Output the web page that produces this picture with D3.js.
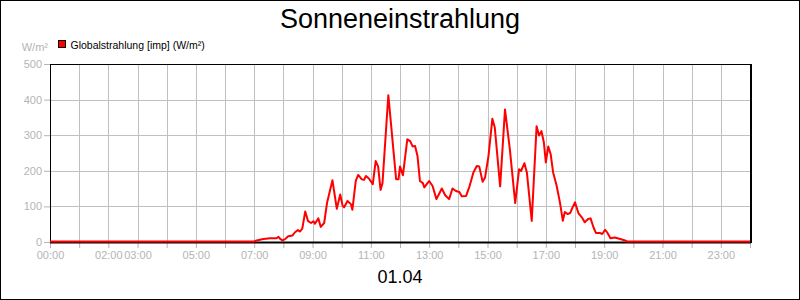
<!DOCTYPE html>
<html lang="de">
<head>
    <meta charset="UTF-8">
    <title>Sonneneinstrahlung</title>
    <script src="https://d3js.org/d3.v7.min.js"></script>
    <style>
        body { margin: 0; font-family: Arial, "Liberation Sans", sans-serif; }
        svg { display: block; }
        .grid line { stroke: #c0c0c0; stroke-width: 1; }
        .tick-label { fill: #b4b4b4; font-size: 11px; }
    </style>
</head>
<body>
    <div id="chart"></div>
    <script>
        // Globalstrahlung readings (time, W/m²)
        const times = ["00:00", "07:00", "07:05", "07:19", "07:33", "07:46", "07:50", "07:53", "07:58", "08:03",
            "08:10", "08:19", "08:24", "08:30", "08:34", "08:39", "08:45", "08:51", "08:57", "09:02",
            "09:05", "09:12", "09:17", "09:24", "09:30", "09:41", "09:50", "09:57", "10:02", "10:05",
            "10:12", "10:19", "10:22", "10:29", "10:34", "10:41", "10:46", "10:50", "10:56", "11:04",
            "11:10", "11:15", "11:20", "11:24", "11:36", "11:52", "11:57", "12:00", "12:06", "12:15",
            "12:21", "12:26", "12:31", "12:36", "12:41", "12:47", "12:50", "12:55", "13:00", "13:07",
            "13:15", "13:26", "13:33", "13:41", "13:48", "13:55", "14:02", "14:07", "14:16", "14:23",
            "14:31", "14:38", "14:43", "14:50", "14:55", "15:02", "15:10", "15:15", "15:26", "15:36",
            "15:46", "15:57", "16:05", "16:09", "16:16", "16:21", "16:31", "16:41", "16:46", "16:51",
            "16:56", "17:00", "17:05", "17:10", "17:15", "17:22", "17:29", "17:35", "17:39", "17:45",
            "17:50", "17:55", "18:00", "18:07", "18:14", "18:20", "18:27", "18:32", "18:38", "18:43",
            "18:51", "18:56", "19:02", "19:06", "19:13", "19:22", "19:33", "19:43", "19:47", "24:00"];
        const values = [0, 0, 3, 7, 9, 9, 13, 8, 3, 6,
            15, 17, 26, 32, 28, 36, 84, 57, 52, 57,
            50, 65, 41, 52, 109, 172, 92, 132, 100, 96,
            114, 105, 89, 170, 187, 175, 173, 184, 177, 161,
            226, 211, 145, 164, 411, 175, 175, 211, 186, 287,
            282, 267, 268, 240, 170, 164, 152, 161, 170, 156,
            119, 149, 130, 119, 149, 142, 139, 127, 128, 155,
            194, 212, 211, 168, 180, 240, 345, 320, 155, 371,
            259, 108, 203, 198, 220, 194, 58, 324, 298, 310,
            278, 222, 267, 245, 194, 158, 110, 58, 83, 77,
            80, 96, 110, 80, 68, 54, 63, 65, 40, 24,
            24, 21, 33, 26, 9, 11, 7, 3, 0, 0];

        const yTicks = [0, 100, 200, 300, 400, 500];
        const hourTicks = d3.range(0, 25);
        const hourLabels = ["00:00", "", "02:00", "03:00", "", "05:00", "", "07:00", "", "09:00", "", "11:00", "",
            "13:00", "", "15:00", "", "17:00", "", "19:00", "", "21:00", "", "23:00", ""];

        const title = "Sonneneinstrahlung";
        const dateLabel = "01.04";
        const seriesName = "Globalstrahlung [imp] (W/m²)";
        const unit = "W/m²";

        const width = 800, height = 300;
        const margin = { top: 64, right: 50, bottom: 58, left: 50 };

        const toMinutes = s => { const p = s.split(":"); return +p[0] * 60 + +p[1]; };
        const data = times.map((t, i) => ({ t: toMinutes(t), v: values[i] }));

        const svg = d3.select("#chart").append("svg")
            .attr("width", width)
            .attr("height", height);

        svg.append("rect")
            .attr("x", 0.5).attr("y", 0.5)
            .attr("width", width - 1).attr("height", height - 1)
            .attr("fill", "#fff").attr("stroke", "#000");

        const x = d3.scaleLinear().domain([0, 1440]).range([margin.left, width - margin.right]);
        const y = d3.scaleLinear().domain([0, 500]).range([height - margin.bottom, margin.top]);

        // grid
        const grid = svg.append("g").attr("class", "grid");
        grid.selectAll(".v").data(hourTicks).enter().append("line")
            .attr("x1", d => Math.round(x(d * 60)) + 0.5).attr("x2", d => Math.round(x(d * 60)) + 0.5)
            .attr("y1", y(500)).attr("y2", y(0));
        grid.selectAll(".h").data(yTicks).enter().append("line")
            .attr("x1", x(0)).attr("x2", x(1440))
            .attr("y1", d => Math.round(y(d)) + 0.5).attr("y2", d => Math.round(y(d)) + 0.5);

        // y axis
        const yAxis = svg.append("g")
            .attr("transform", `translate(${x(0)},0)`)
            .call(d3.axisLeft(y).tickValues(yTicks).tickSize(6).tickPadding(2));
        yAxis.select(".domain").remove();
        yAxis.selectAll("line").attr("stroke", "#b4b4b4");
        yAxis.selectAll("text").attr("class", "tick-label").attr("fill", "#b4b4b4")
            .style("font-family", "Arial, 'Liberation Sans', sans-serif");

        // x axis
        const xAxis = svg.append("g")
            .attr("transform", `translate(0,${y(0)})`)
            .call(d3.axisBottom(x).tickValues(hourTicks.map(h => h * 60))
                .tickFormat((d, i) => hourLabels[i]).tickSize(6).tickPadding(3));
        xAxis.select(".domain").remove();
        xAxis.selectAll("line").attr("stroke", "#b4b4b4");
        xAxis.selectAll("text").attr("class", "tick-label").attr("fill", "#b4b4b4")
            .style("font-family", "Arial, 'Liberation Sans', sans-serif");

        // plot frame
        svg.append("rect")
            .attr("x", x(0) + 0.5).attr("y", y(500) + 0.5)
            .attr("width", x(1440) - x(0)).attr("height", y(0) - y(500))
            .attr("fill", "none").attr("stroke", "#000");
        svg.append("line")
            .attr("x1", x(0)).attr("x2", x(1440) + 1)
            .attr("y1", y(0) + 0.5).attr("y2", y(0) + 0.5)
            .attr("stroke", "#000").attr("stroke-width", 2);
        svg.append("line")
            .attr("x1", x(1440) + 1).attr("x2", x(1440) + 1)
            .attr("y1", y(500)).attr("y2", y(0) + 1)
            .attr("stroke", "#000").attr("stroke-width", 2);

        // series line
        const line = d3.line().x(d => x(d.t)).y(d => y(d.v) - 0.5);
        svg.append("path")
            .datum(data)
            .attr("d", line)
            .attr("fill", "none")
            .attr("stroke", "#ff0000")
            .attr("stroke-width", 2)
            .attr("stroke-linejoin", "round");

        // titles
        svg.append("text")
            .attr("x", width / 2).attr("y", 28)
            .attr("text-anchor", "middle")
            .style("font-size", "27px")
            .text(title);

        svg.append("text")
            .attr("x", width / 2).attr("y", 283)
            .attr("text-anchor", "middle")
            .style("font-size", "18px")
            .text(dateLabel);

        // unit label
        svg.append("text")
            .attr("x", 48).attr("y", 51)
            .attr("text-anchor", "end")
            .attr("fill", "#b4b4b4")
            .style("font-size", "11px")
            .text(unit);

        // legend
        const legend = svg.append("g").attr("transform", "translate(58.5,40.5)");
        legend.append("rect")
            .attr("width", 7).attr("height", 7)
            .attr("fill", "#ff0000").attr("stroke", "#000");
        legend.append("text")
            .attr("x", 12).attr("y", 8)
            .style("font-size", "10.5px")
            .text(seriesName);
    </script>
</body>
</html>
